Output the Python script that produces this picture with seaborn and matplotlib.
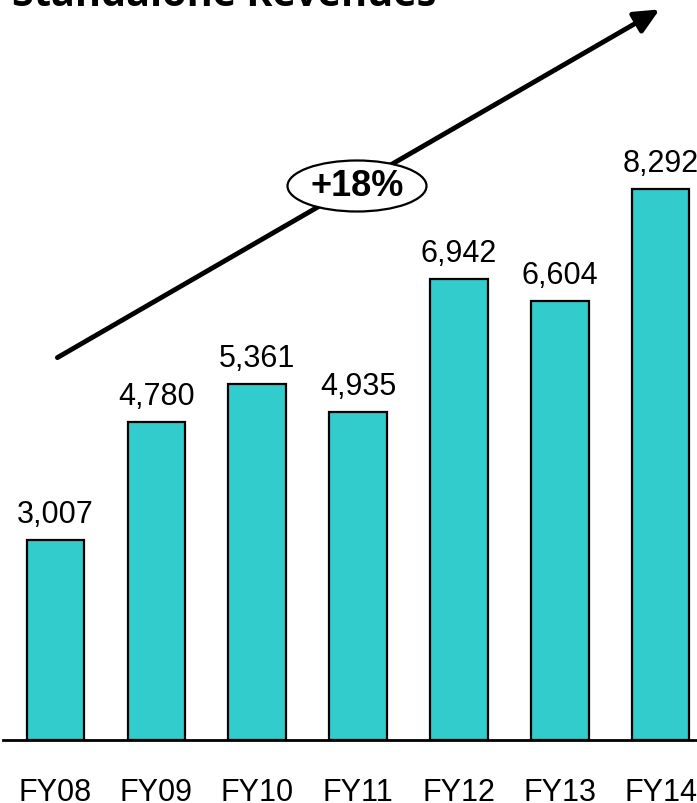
import matplotlib
matplotlib.use("Agg")
import matplotlib.pyplot as plt
import seaborn as sns
import pandas as pd
from matplotlib.patches import Ellipse, FancyArrowPatch

years = ["FY08", "FY09", "FY10", "FY11", "FY12", "FY13", "FY14"]
revenues = [3007, 4780, 5361, 4935, 6942, 6604, 8292]
value_labels = ["3,007", "4,780", "5,361", "4,935", "6,942", "6,604", "8,292"]
title = "Standalone Revenues"
cagr_label = "+18%"

sns.set_style("white")
plt.rcParams['font.family'] = ['Liberation Sans', 'DejaVu Sans']
plt.rcParams['text.color'] = 'black'
plt.rcParams['xtick.color'] = 'black'
plt.rcParams['xtick.labelcolor'] = 'black'

W, H = 697, 804
fig = plt.figure(figsize=(W / 100, H / 100), dpi=100)
ax = fig.add_axes([3 / W, (H - 741) / H, 1 - 3 / W, 741 / H])

df = pd.DataFrame({"year": years, "rev": revenues})
sns.barplot(data=df, x="year", y="rev", color="#33CCCC", saturation=1,
            width=0.57, edgecolor="black", linewidth=1.6, ax=ax)
ax.set_xlim(-0.52, 6.36)
ax.set_ylim(0, 11150)
ax.bar_label(ax.containers[0], labels=value_labels, padding=8, fontsize=22,
             color="black")

for s in ["top", "right", "left"]:
    ax.spines[s].set_visible(False)
ax.spines["bottom"].set_linewidth(2)
ax.spines["bottom"].set_color("black")
ax.set_yticks([])
ax.set_xlabel("")
ax.set_ylabel("")
ax.tick_params(axis="x", length=0, pad=27, labelsize=22, labelcolor="black")

def fx(x):
    return x / W

def fy(y):
    return 1 - y / H

arrow = FancyArrowPatch((fx(55), fy(360)), (fx(662), fy(9)), transform=fig.transFigure,
                        arrowstyle="-|>,head_length=15,head_width=7", mutation_scale=1,
                        linewidth=3.5, color="black")
fig.add_artist(arrow)
ell = Ellipse((fx(357), fy(187)), 139 / W, 51 / H, transform=fig.transFigure,
              facecolor="white", edgecolor="black", linewidth=1.6, zorder=5)
fig.add_artist(ell)
fig.text(fx(357), fy(186), cagr_label, ha="center", va="center", fontsize=26,
         fontweight="bold", zorder=6)
fig.text(fx(12), fy(6), title, ha="left", va="baseline", fontsize=28.5,
         fontweight="bold", family=["Open Sans", "DejaVu Sans"])

fig.savefig("out.png", dpi=100)
